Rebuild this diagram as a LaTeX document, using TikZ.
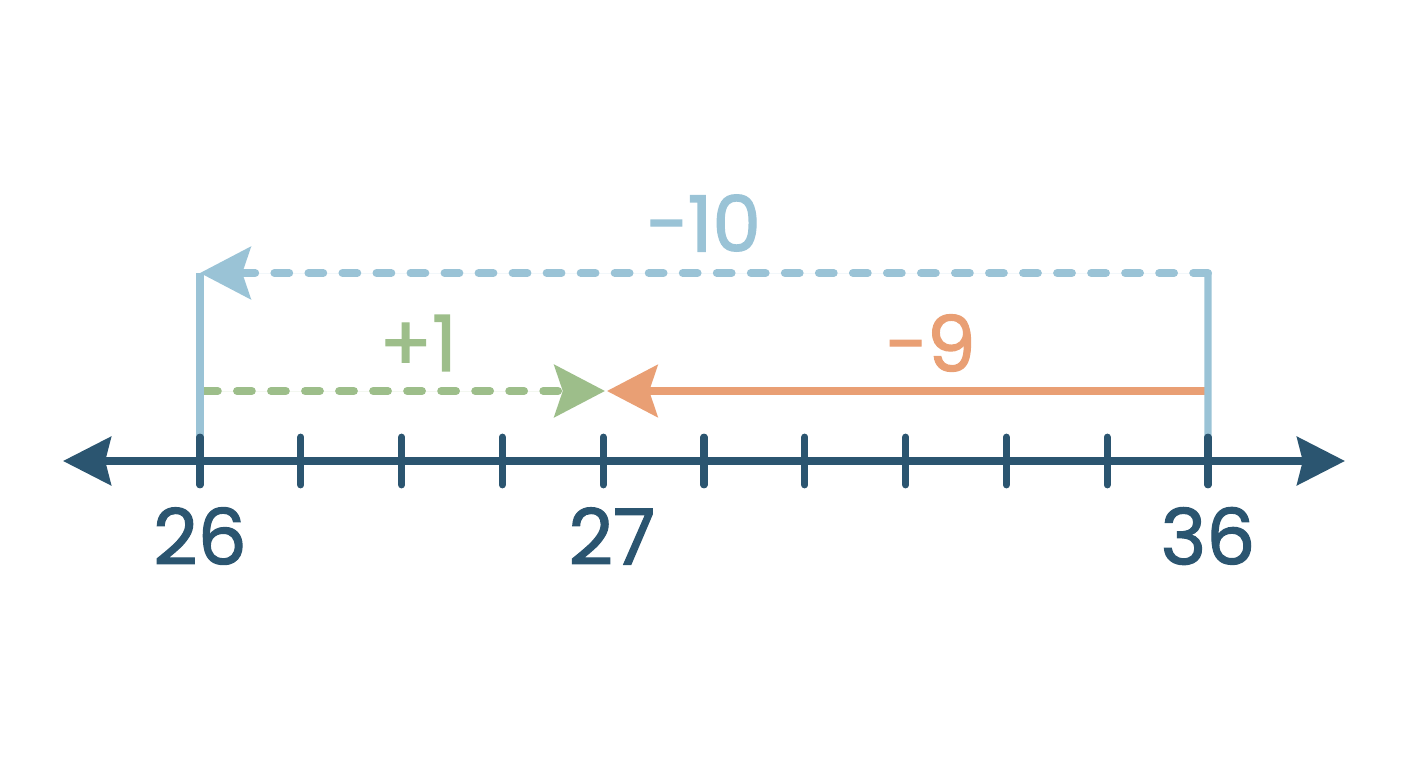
\documentclass[tikz,border=0pt]{standalone}
\usepackage{fontspec}
\setmainfont{Poppins}[FakeBold=1.6]
\usetikzlibrary{positioning, arrows.meta}
\definecolor{axisblue}{HTML}{2B5570}
\definecolor{jumpblue}{HTML}{9AC3D6}
\definecolor{jumpgreen}{HTML}{9DBE8A}
\definecolor{jumporange}{HTML}{E99F74}
\tikzstyle{axis}     = [line width=5.7pt, draw=axisblue, {Stealth[length=34pt, width=34pt, inset=4pt]}-{Stealth[length=34pt, width=34pt, inset=4pt]}]
\tikzstyle{tick}     = [line width=5pt, line cap=round, draw=axisblue]
\tikzstyle{jump}     = [line width=5.2pt, -{Stealth[length=36pt, width=37pt, inset=6pt]}]
\tikzstyle{dashjump} = [jump, line width=5.7pt, line cap=round, dash pattern=on 10.5pt off 13.7pt]
\tikzstyle{numlabel} = [inner sep=0pt, text=axisblue, font=\fontsize{55}{60}\selectfont]
\tikzstyle{jumplabel}= [inner sep=0pt, font=\fontsize{55}{60}\selectfont]

\begin{document}
\begin{tikzpicture}[x=0.025cm, y=-0.025cm]
            \useasboundingbox (0,0) rectangle (1408,768);

            % points on the line
            \foreach \i in {0,...,10}
                \coordinate (t\i) at ({200+100.8*\i},461);
            \coordinate (lend)  at (63,461);
            \coordinate (rend)  at (1345,461);
            \coordinate (top26) at (200,273);
            \coordinate (top36) at (1208,273);
            \coordinate (mid26) at (203,391);
            \coordinate (mid27) at (605,391);
            \coordinate (mid36) at (1205,391);

            % jumps
            \draw[dashjump, draw=jumpgreen, fill=jumpgreen] (mid26) -- (mid27);
            \draw[jump, draw=jumporange, fill=jumporange] (mid36) -- ([xshift=1.4pt]mid27);
            \draw[line width=5pt, draw=jumpblue] (t10) -- (top36);
            \draw[dashjump, draw=jumpblue, fill=jumpblue] (top36) -- (top26);
            \draw[line width=5pt, draw=jumpblue] (top26) -- (t0);

            \node[jumplabel, text=jumpblue]   (minusten)  at (703,223) {−10};
            \node[jumplabel, text=jumpgreen]  (plusone)   at (418,343) {+1};
            \node[jumplabel, text=jumporange] (minusnine) at (930,343) {−9};

            % number line
            \draw[axis] (lend) -- (rend);
            \foreach \i in {0,...,10}
                \draw[tick] ([yshift=17pt]t\i) -- ([yshift=-17pt]t\i);

            \node[numlabel] (n26) at (200,536) {26};
            \node[numlabel] (n27) at (612,536) {27};
            \node[numlabel] (n36) at (1208,536) {36};
        \end{tikzpicture}
\end{document}
